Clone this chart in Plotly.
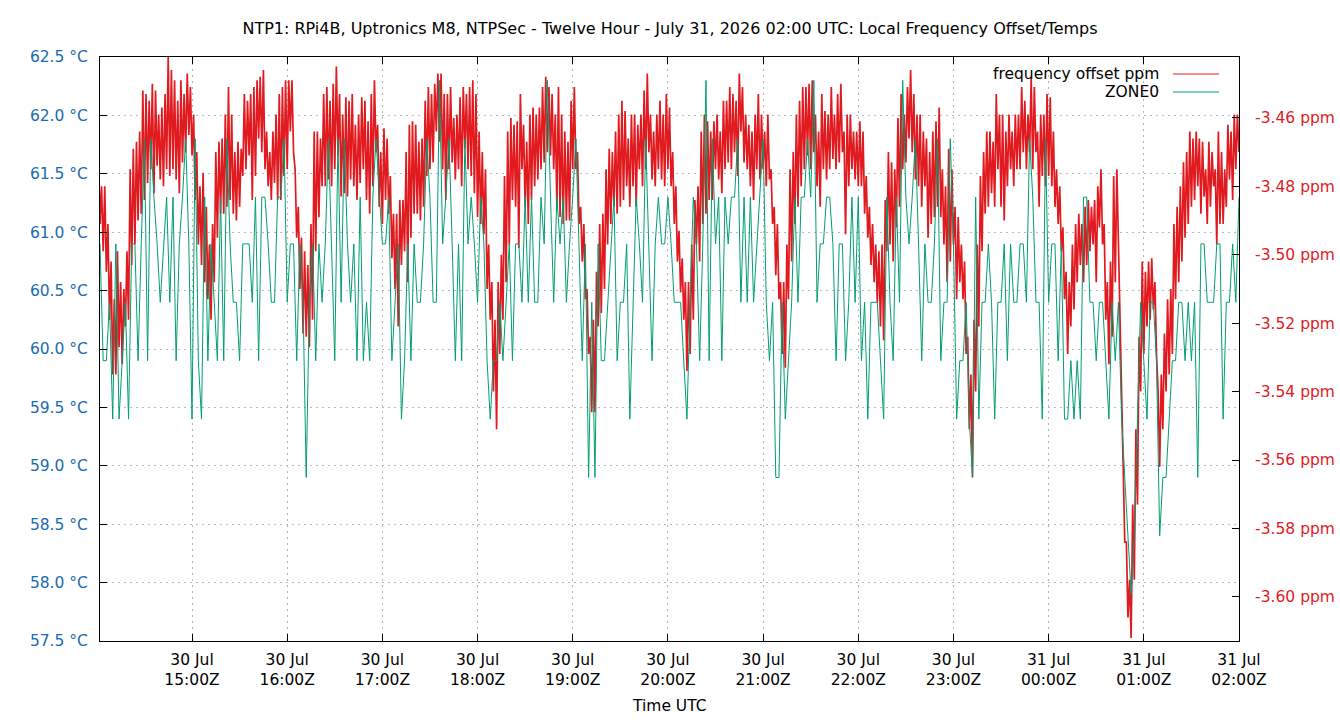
import plotly.graph_objects as go
import pandas as pd

# ---------------- data ----------------
freq_start = "2026-07-30 14:01"     # frequency offset, one value per minute
freq_step_minutes = 1
temp_start = "2026-07-30 14:02"     # ZONE0 temperature, one value per two minutes
temp_step_minutes = 2
end_time = "2026-07-31 02:00"

freq_ppm = [
    # 14:01
    -3.467, -3.491, -3.480, -3.499, -3.480, -3.505, -3.491, -3.519, -3.502, -3.535,
    -3.513, -3.535, -3.499, -3.527, -3.508, -3.532, -3.510, -3.521, -3.499, -3.519,
    -3.475, -3.503, -3.469, -3.497, -3.467, -3.490, -3.464, -3.488, -3.452, -3.484,
    -3.453, -3.479, -3.455, -3.475, -3.450, -3.482, -3.452, -3.474, -3.459, -3.478,
    -3.457, -3.480, -3.453, -3.475, -3.442, -3.477, -3.446, -3.475, -3.449, -3.478,
    -3.455, -3.482, -3.449, -3.473, -3.453, -3.470, -3.447, -3.465, -3.451, -3.471,
    -3.459, -3.484, -3.470, -3.497, -3.480, -3.503, -3.476, -3.508, -3.486, -3.513,
    -3.497, -3.519, -3.491, -3.508, -3.470, -3.495, -3.467, -3.488, -3.466, -3.488,
    -3.459, -3.486, -3.451, -3.484, -3.459, -3.488, -3.470, -3.490, -3.467, -3.486,
    -3.469, -3.477, -3.453, -3.475, -3.455, -3.471, -3.453, -3.484, -3.451, -3.477,
    -3.449, -3.466, -3.448, -3.470, -3.446, -3.475, -3.464, -3.480, -3.470, -3.484,
    -3.464, -3.479, -3.459, -3.484, -3.453, -3.484, -3.451, -3.477, -3.449, -3.475,
    # 16:01
    -3.449, -3.464, -3.449, -3.470, -3.475, -3.495, -3.486, -3.510, -3.495, -3.523,
    -3.499, -3.524, -3.503, -3.527, -3.491, -3.519, -3.464, -3.499, -3.464, -3.489,
    -3.466, -3.480, -3.453, -3.480, -3.451, -3.478, -3.455, -3.480, -3.450, -3.475,
    -3.445, -3.471, -3.453, -3.483, -3.459, -3.482, -3.454, -3.483, -3.455, -3.478,
    -3.453, -3.480, -3.462, -3.484, -3.459, -3.479, -3.454, -3.475, -3.455, -3.484,
    -3.461, -3.488, -3.453, -3.480, -3.449, -3.470, -3.462, -3.486, -3.470, -3.491,
    -3.463, -3.484, -3.466, -3.488, -3.477, -3.501, -3.488, -3.510, -3.488, -3.521,
    -3.484, -3.503, -3.484, -3.499, -3.470, -3.508, -3.462, -3.495, -3.461, -3.488,
    -3.462, -3.488, -3.467, -3.490, -3.466, -3.486, -3.455, -3.477, -3.451, -3.475,
    -3.453, -3.473, -3.450, -3.464, -3.447, -3.467, -3.447, -3.475, -3.453, -3.484,
    -3.453, -3.475, -3.451, -3.473, -3.460, -3.478, -3.459, -3.475, -3.454, -3.480,
    -3.451, -3.469, -3.453, -3.475, -3.451, -3.477, -3.449, -3.482, -3.453, -3.489,
    # 18:01
    -3.464, -3.491, -3.470, -3.494, -3.475, -3.510, -3.497, -3.519, -3.508, -3.540,
    -3.519, -3.551, -3.508, -3.529, -3.500, -3.519, -3.477, -3.508, -3.464, -3.497,
    -3.460, -3.484, -3.462, -3.486, -3.461, -3.498, -3.453, -3.475, -3.462, -3.486,
    -3.467, -3.491, -3.459, -3.484, -3.457, -3.480, -3.459, -3.478, -3.457, -3.475,
    -3.451, -3.473, -3.448, -3.470, -3.451, -3.471, -3.453, -3.475, -3.459, -3.486,
    -3.451, -3.489, -3.459, -3.491, -3.464, -3.490, -3.467, -3.490, -3.455, -3.475,
    -3.451, -3.475, -3.470, -3.491, -3.486, -3.502, -3.491, -3.513, -3.510, -3.529,
    -3.524, -3.546, -3.519, -3.546, -3.505, -3.521, -3.491, -3.517, -3.488, -3.510,
    -3.475, -3.497, -3.469, -3.491, -3.470, -3.486, -3.464, -3.488, -3.459, -3.486,
    -3.455, -3.484, -3.458, -3.480, -3.466, -3.486, -3.459, -3.480, -3.459, -3.486,
    -3.462, -3.475, -3.459, -3.480, -3.452, -3.475, -3.447, -3.470, -3.459, -3.478,
    -3.464, -3.480, -3.459, -3.475, -3.455, -3.478, -3.459, -3.480, -3.453, -3.475,
    # 20:01
    -3.457, -3.480, -3.470, -3.491, -3.480, -3.502, -3.493, -3.511, -3.501, -3.519,
    -3.508, -3.534, -3.508, -3.529, -3.497, -3.519, -3.484, -3.497, -3.480, -3.502,
    -3.464, -3.491, -3.459, -3.488, -3.461, -3.484, -3.464, -3.484, -3.461, -3.475,
    -3.459, -3.478, -3.464, -3.482, -3.455, -3.475, -3.455, -3.473, -3.451, -3.475,
    -3.453, -3.470, -3.455, -3.477, -3.447, -3.464, -3.451, -3.473, -3.459, -3.475,
    -3.462, -3.480, -3.464, -3.484, -3.459, -3.475, -3.453, -3.478, -3.459, -3.475,
    -3.464, -3.480, -3.459, -3.478, -3.475, -3.491, -3.486, -3.506, -3.491, -3.513,
    -3.508, -3.529, -3.508, -3.533, -3.497, -3.513, -3.475, -3.502, -3.470, -3.491,
    -3.459, -3.486, -3.455, -3.480, -3.451, -3.475, -3.451, -3.471, -3.450, -3.475,
    -3.449, -3.470, -3.459, -3.480, -3.464, -3.486, -3.453, -3.475, -3.458, -3.478,
    -3.459, -3.475, -3.451, -3.472, -3.459, -3.475, -3.453, -3.473, -3.450, -3.470,
    -3.464, -3.494, -3.459, -3.480, -3.459, -3.475, -3.464, -3.478, -3.464, -3.480,
    # 22:01
    -3.461, -3.480, -3.464, -3.488, -3.477, -3.495, -3.486, -3.503, -3.491, -3.508,
    -3.497, -3.514, -3.499, -3.521, -3.497, -3.525, -3.484, -3.499, -3.470, -3.497,
    -3.473, -3.502, -3.475, -3.492, -3.460, -3.486, -3.453, -3.475, -3.459, -3.473,
    -3.451, -3.466, -3.446, -3.470, -3.453, -3.478, -3.459, -3.480, -3.459, -3.486,
    -3.464, -3.480, -3.466, -3.495, -3.470, -3.491, -3.464, -3.489, -3.461, -3.486,
    -3.457, -3.489, -3.475, -3.497, -3.480, -3.508, -3.469, -3.502, -3.475, -3.497,
    -3.486, -3.513, -3.489, -3.508, -3.497, -3.513, -3.502, -3.529, -3.524, -3.551,
    -3.535, -3.565, -3.519, -3.540, -3.497, -3.521, -3.477, -3.499, -3.470, -3.488,
    -3.464, -3.486, -3.464, -3.482, -3.467, -3.486, -3.453, -3.475, -3.459, -3.486,
    -3.459, -3.490, -3.464, -3.480, -3.459, -3.475, -3.464, -3.480, -3.459, -3.475,
    -3.459, -3.475, -3.451, -3.470, -3.455, -3.475, -3.459, -3.470, -3.448, -3.475,
    -3.451, -3.470, -3.464, -3.486, -3.459, -3.477, -3.459, -3.480, -3.453, -3.477,
    # 00:01
    -3.454, -3.480, -3.464, -3.486, -3.475, -3.491, -3.480, -3.499, -3.492, -3.513,
    -3.505, -3.529, -3.508, -3.521, -3.497, -3.516, -3.491, -3.508, -3.488, -3.503,
    -3.491, -3.508, -3.486, -3.503, -3.484, -3.499, -3.486, -3.497, -3.484, -3.508,
    -3.480, -3.492, -3.475, -3.497, -3.491, -3.519, -3.508, -3.532, -3.502, -3.524,
    -3.477, -3.508, -3.475, -3.499, -3.519, -3.546, -3.562, -3.584, -3.584, -3.606,
    -3.595, -3.612, -3.573, -3.595, -3.551, -3.573, -3.524, -3.540, -3.502, -3.529,
    -3.505, -3.521, -3.502, -3.519, -3.501, -3.516, -3.508, -3.529, -3.540, -3.562,
    -3.535, -3.551, -3.523, -3.540, -3.513, -3.535, -3.510, -3.529, -3.491, -3.513,
    -3.486, -3.508, -3.480, -3.502, -3.473, -3.495, -3.470, -3.491, -3.464, -3.486,
    -3.466, -3.484, -3.464, -3.480, -3.466, -3.488, -3.467, -3.483, -3.475, -3.491,
    -3.467, -3.486, -3.470, -3.480, -3.475, -3.497, -3.464, -3.491, -3.470, -3.491,
    -3.475, -3.486, -3.462, -3.478, -3.464, -3.484, -3.459, -3.475, -3.459, -3.470,
]

zone0_c = [
    # 14:02
    60.9, 59.9, 59.9, 60.4, 59.4, 60.9, 59.4, 59.9, 60.4, 59.4,
    60.9, 60.9, 59.9, 60.9, 61.8, 59.9, 61.8, 61.3, 60.9, 60.4,
    60.9, 61.3, 60.4, 61.3, 59.9, 60.9, 61.3, 61.8, 60.9, 59.4,
    61.8, 59.9, 59.4, 61.3, 59.9, 60.9, 60.4, 59.9, 61.3, 59.9,
    61.8, 60.9, 60.4, 60.4, 59.9, 60.9, 60.9, 60.9, 60.4, 61.3,
    59.9, 61.3, 61.3, 60.9, 60.4, 60.4, 61.3, 61.3, 61.8, 60.4,
    # 16:02
    60.9, 60.9, 59.9, 60.9, 60.4, 58.9, 60.4, 60.9, 59.9, 60.9,
    60.4, 60.9, 61.8, 60.9, 59.9, 61.8, 60.4, 61.8, 60.9, 60.4,
    60.9, 59.9, 61.3, 59.9, 60.4, 59.9, 61.3, 61.8, 61.3, 60.9,
    60.9, 61.3, 59.9, 60.4, 60.9, 59.4, 59.9, 60.9, 59.9, 60.9,
    60.4, 60.4, 60.9, 61.8, 61.3, 60.4, 60.4, 62.3, 60.9, 61.3,
    61.8, 60.9, 59.9, 60.9, 59.9, 61.8, 60.9, 61.3, 60.9, 60.4,
    # 18:02
    61.3, 60.9, 59.9, 59.4, 59.9, 59.9, 60.4, 59.9, 60.4, 60.9,
    59.9, 60.9, 60.9, 60.4, 61.3, 60.4, 61.3, 60.4, 60.4, 61.3,
    60.9, 62.3, 61.3, 60.4, 61.3, 60.9, 61.3, 60.4, 60.9, 61.3,
    61.8, 60.9, 59.9, 60.9, 58.9, 60.4, 58.9, 60.9, 59.9, 59.9,
    60.4, 60.9, 61.3, 59.9, 60.4, 60.4, 60.9, 59.4, 60.4, 61.3,
    60.9, 60.4, 61.8, 60.9, 59.9, 60.9, 61.3, 60.9, 60.9, 61.3,
    # 20:02
    60.9, 60.4, 60.4, 60.4, 59.9, 59.4, 60.4, 61.3, 60.9, 59.9,
    60.9, 62.3, 59.9, 61.8, 60.9, 61.3, 59.9, 61.3, 60.9, 61.3,
    61.3, 61.8, 60.4, 61.3, 60.4, 61.3, 60.4, 60.9, 61.3, 61.8,
    60.4, 59.9, 60.4, 58.9, 58.9, 60.4, 59.4, 59.9, 60.4, 61.3,
    60.4, 61.3, 61.3, 61.8, 61.3, 62.3, 60.4, 60.9, 60.9, 61.3,
    61.3, 60.9, 59.9, 60.9, 60.9, 59.9, 60.4, 61.3, 60.4, 61.3,
    # 22:02
    59.9, 60.4, 59.4, 60.4, 60.4, 60.4, 59.9, 59.4, 61.3, 60.4,
    59.9, 61.3, 60.4, 62.3, 61.3, 60.9, 61.3, 61.8, 60.9, 59.9,
    60.9, 60.4, 60.4, 60.9, 61.8, 59.9, 60.4, 60.4, 61.8, 60.9,
    59.4, 59.9, 59.9, 60.4, 59.4, 58.9, 61.3, 59.4, 60.4, 60.4,
    60.9, 60.4, 59.4, 60.4, 60.4, 60.9, 59.9, 60.9, 60.4, 60.4,
    60.9, 60.9, 60.4, 61.8, 61.3, 60.4, 60.4, 59.4, 61.8, 60.4,
    # 00:02
    60.9, 60.9, 59.9, 60.9, 59.4, 59.4, 59.9, 59.4, 59.9, 59.4,
    61.3, 61.3, 60.4, 60.4, 59.9, 60.4, 60.4, 59.9, 59.4, 60.4,
    59.9, 60.4, 59.4, 58.9, 58.4, 57.9, 58.4, 59.4, 60.4, 59.9,
    59.4, 60.4, 60.4, 59.9, 58.4, 58.9, 58.9, 59.4, 59.9, 59.9,
    60.4, 60.4, 59.9, 60.4, 59.9, 60.4, 58.9, 60.9, 60.9, 60.4,
    60.4, 60.4, 60.9, 60.9, 59.4, 60.4, 60.4, 60.9, 60.4, 61.3,
]

x_tick_vals = ["2026-07-30 15:00", "2026-07-30 16:00", "2026-07-30 17:00", "2026-07-30 18:00",
               "2026-07-30 19:00", "2026-07-30 20:00", "2026-07-30 21:00", "2026-07-30 22:00",
               "2026-07-30 23:00", "2026-07-31 00:00", "2026-07-31 01:00", "2026-07-31 02:00"]
x_tick_text = ["30 Jul<br>15:00Z", "30 Jul<br>16:00Z", "30 Jul<br>17:00Z", "30 Jul<br>18:00Z",
               "30 Jul<br>19:00Z", "30 Jul<br>20:00Z", "30 Jul<br>21:00Z", "30 Jul<br>22:00Z",
               "30 Jul<br>23:00Z", "31 Jul<br>00:00Z", "31 Jul<br>01:00Z", "31 Jul<br>02:00Z"]
temp_tick_vals = [57.5, 58.0, 58.5, 59.0, 59.5, 60.0, 60.5, 61.0, 61.5, 62.0, 62.5]
temp_tick_text = ["57.5 °C", "58.0 °C", "58.5 °C", "59.0 °C", "59.5 °C", "60.0 °C",
                  "60.5 °C", "61.0 °C", "61.5 °C", "62.0 °C", "62.5 °C"]
ppm_tick_vals = [-3.60, -3.58, -3.56, -3.54, -3.52, -3.50, -3.48, -3.46]
ppm_tick_text = ["-3.60 ppm", "-3.58 ppm", "-3.56 ppm", "-3.54 ppm",
                 "-3.52 ppm", "-3.50 ppm", "-3.48 ppm", "-3.46 ppm"]
x_range_start = "2026-07-30 14:02"
temp_range = [57.5, 62.5]
ppm_range = [-3.6129, -3.4422]

title_text = "NTP1: RPi4B, Uptronics M8, NTPSec - Twelve Hour - July 31, 2026 02:00 UTC: Local Frequency Offset/Temps"

# ---------------- styling ----------------
RED = "#e01a1f"
GREEN = "#009e73"
BLUE = "#1a6bb0"
FONT = "DejaVu Sans"
FS = 15.5
GRID = "#b8b8b8"
GRIDDASH = "2px,4px"

freq_times = pd.date_range(freq_start, periods=len(freq_ppm), freq=f"{freq_step_minutes}min")
temp_times = pd.date_range(temp_start, periods=len(zone0_c), freq=f"{temp_step_minutes}min")

fig = go.Figure()
fig.add_trace(go.Scatter(x=freq_times, y=freq_ppm, mode="lines", name="frequency offset ppm",
                         line=dict(color=RED, width=1.7), yaxis="y"))
fig.add_trace(go.Scatter(x=temp_times, y=zone0_c, mode="lines", name="ZONE0",
                         line=dict(color=GREEN, width=1), yaxis="y2"))

axis_common = dict(ticks="inside", ticklen=7, tickcolor="black", tickwidth=1,
                   showline=True, linecolor="black", linewidth=1, zeroline=False)

fig.update_layout(
    width=1340, height=720,
    margin=dict(l=100, r=101, t=57, b=79, autoexpand=False),
    paper_bgcolor="white", plot_bgcolor="white",
    font=dict(family=FONT, size=FS, color="black"),
    showlegend=False,
    title=dict(text=title_text, x=0.5, xanchor="center", y=1 - 28 / 720, yanchor="middle",
               yref="container", font=dict(family=FONT, size=16, color="black")),
    xaxis=dict(type="date", range=[x_range_start, end_time], tickmode="array",
               tickvals=x_tick_vals, ticktext=x_tick_text, mirror="ticks",
               showgrid=True, gridcolor=GRID, griddash=GRIDDASH, gridwidth=1,
               tickfont=dict(size=FS, color="black"), ticklabelstandoff=4,
               **axis_common),
    yaxis=dict(side="right", range=ppm_range, tickmode="array", tickvals=ppm_tick_vals,
               ticktext=ppm_tick_text, showgrid=False,
               tickfont=dict(size=FS, color=RED), ticklabelstandoff=12,
               **axis_common),
    yaxis2=dict(side="left", overlaying="y", anchor="x", range=temp_range, tickmode="array",
                tickvals=temp_tick_vals, ticktext=temp_tick_text,
                showgrid=True, gridcolor=GRID, griddash=GRIDDASH, gridwidth=1,
                tickfont=dict(size=FS, color=BLUE), ticklabelstandoff=8,
                **axis_common),
)

# x-axis title
fig.add_annotation(text="Time UTC", xref="paper", yref="paper", x=0.5, y=-(706 - 641) / 584,
                   xanchor="center", yanchor="middle", showarrow=False,
                   font=dict(family=FONT, size=FS, color="black"))

# legend (gnuplot style: text right-aligned, line sample to the right)
legend_items = [("frequency offset ppm", RED, 74), ("ZONE0", GREEN, 92)]
for label, color, py in legend_items:
    yp = (641 - py) / 584
    fig.add_annotation(text=label, xref="paper", yref="paper", x=(1161 - 100) / 1139, y=yp,
                       xanchor="right", yanchor="middle", showarrow=False,
                       font=dict(family=FONT, size=FS, color="black"))
    fig.add_shape(type="line", xref="paper", yref="paper",
                  x0=(1173 - 100) / 1139, x1=(1219 - 100) / 1139, y0=yp, y1=yp,
                  line=dict(color=color, width=1))

fig.write_html("out.html", config={"displayModeBar": False})
